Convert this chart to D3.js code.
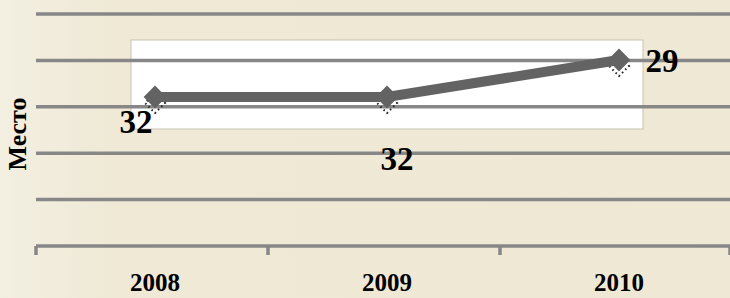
<!DOCTYPE html>
<html>
<head>
<meta charset="utf-8">
<script src="https://cdn.jsdelivr.net/npm/d3@7"></script>
<style>
  html, body { margin: 0; padding: 0; }
  body { width: 730px; height: 298px; overflow: hidden; }
</style>
</head>
<body>
<div id="chart"></div>
<script>
const years = ["2008", "2009", "2010"];
const places = [32, 32, 29];
const gridLevels = [0, 1, 2, 3, 4, 5];
const axisTitle = "Место";

const width = 730, height = 298;
const plot = {left: 36, right: 732, top: 14, bottom: 246};

const svg = d3.select("#chart")
  .append("svg")
    .attr("width", width)
    .attr("height", height)
    .attr("font-family", "'Liberation Serif', 'DejaVu Serif', serif");

// background
const defs = svg.append("defs");
const grad = defs.append("linearGradient").attr("id", "bg").attr("x1", 0).attr("x2", 1);
grad.append("stop").attr("offset", 0).attr("stop-color", "#f3efe1");
grad.append("stop").attr("offset", 0.15).attr("stop-color", "#efe9d6");
grad.append("stop").attr("offset", 1).attr("stop-color", "#eee8d5");
svg.append("rect").attr("width", width).attr("height", height).attr("fill", "url(#bg)");

const x = d3.scaleBand().domain(years).range([plot.left, plot.right]);
const yGrid = d3.scaleLinear().domain([0, 5]).range([plot.bottom, plot.top]);
// rank axis, reversed: lower place sits higher
const y = d3.scaleLinear().domain([29, 32]).range([60, 97]);

// white inner plot box
svg.append("rect")
  .attr("x", 131).attr("y", 40)
  .attr("width", 512).attr("height", 89)
  .attr("fill", "#ffffff")
  .attr("stroke", "#c8c3b2")
  .attr("stroke-width", 1);

// gridlines
svg.append("g")
  .selectAll("line")
  .data(gridLevels.slice(1))
  .enter()
  .append("line")
    .attr("x1", plot.left)
    .attr("x2", width)
    .attr("y1", d => yGrid(d))
    .attr("y2", d => yGrid(d))
    .attr("stroke", "#878787")
    .attr("stroke-width", 3.5);

// category axis
const xAxis = svg.append("g").attr("transform", `translate(0,${plot.bottom})`);
xAxis.append("line")
  .attr("x1", plot.left).attr("x2", width)
  .attr("stroke", "#878787").attr("stroke-width", 3.5);
xAxis.selectAll("line.tick")
  .data(years.concat([null]))
  .enter()
  .append("line")
    .attr("class", "tick")
    .attr("x1", (d, i) => i < years.length ? x(years[i]) : plot.right - 2)
    .attr("x2", (d, i) => i < years.length ? x(years[i]) : plot.right - 2)
    .attr("y1", 0).attr("y2", 9)
    .attr("stroke", "#878787").attr("stroke-width", 3.5);
xAxis.selectAll("text")
  .data(years)
  .enter()
  .append("text")
    .attr("x", d => x(d) + x.bandwidth() / 2 + 3)
    .attr("y", 45)
    .attr("text-anchor", "middle")
    .attr("font-size", 25)
    .attr("font-weight", "bold")
    .text(d => d);

// y title
svg.append("text")
  .attr("transform", "translate(26,134) rotate(-90)")
  .attr("text-anchor", "middle")
  .attr("font-size", 26)
  .attr("font-weight", "bold")
  .text(axisTitle);

const pts = years.map((d, i) => ({year: d, v: places[i], x: x(d) + x.bandwidth() / 2 + 3, y: y(places[i])}));

// marker shadows (dotted)
const shadow = svg.append("g");
pts.forEach(p => {
  shadow.append("path")
    .attr("d", `M${p.x},${p.y - 4} L${p.x + 10},${p.y + 6} L${p.x},${p.y + 16} L${p.x - 10},${p.y + 6} Z`)
    .attr("fill", "none")
    .attr("stroke", "#222")
    .attr("stroke-width", 2)
    .attr("stroke-dasharray", "1.5,3");
});

// line
svg.append("path")
  .datum(pts)
  .attr("d", d3.line().x(d => d.x).y(d => d.y))
  .attr("fill", "none")
  .attr("stroke", "#636363")
  .attr("stroke-width", 10);

// diamond markers
svg.append("g")
  .selectAll("path")
  .data(pts)
  .enter()
  .append("path")
    .attr("transform", d => `translate(${d.x},${d.y})`)
    .attr("d", d3.symbol().type(d3.symbolDiamond2).size(330))
    .attr("fill", "#636363");

// data labels
const labelOffsets = [[-19, 36], [10, 73], [43, 12]];
svg.append("g")
  .selectAll("text")
  .data(pts)
  .enter()
  .append("text")
    .attr("x", (d, i) => d.x + labelOffsets[i][0])
    .attr("y", (d, i) => d.y + labelOffsets[i][1])
    .attr("text-anchor", "middle")
    .attr("font-size", 33)
    .attr("font-weight", "bold")
    .text(d => d.v);
</script>
</body>
</html>
